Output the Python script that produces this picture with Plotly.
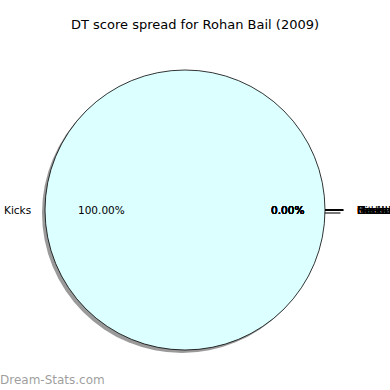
import numpy as np
import plotly.graph_objects as go

# ---- data ----
categories = ["Kicks", "Handballs", "Marks", "Tackles", "Hitouts",
              "Frees For", "Frees Against", "Goals", "Behinds"]
values = [100, 0, 0, 0, 0, 0, 0, 0, 0]
title_text = "DT score spread for Rohan Bail (2009)"
watermark = "Dream-Stats.com"

# ---- geometry (pixels) ----
W = H = 390
CX, CY, R = 185, 210, 140          # pie centre / radius in px (from top-left)
SH = 3                              # shadow offset px
PULL = 0.13                         # explode for zero slices (radius units)
FONT = "DejaVu Sans"

vals = np.array(values, dtype=float)
frac = vals / vals.sum()
ends = np.cumsum(frac) * 360.0
starts = ends - frac * 360.0
mids = np.deg2rad((starts + ends) / 2.0)
explode = np.where(vals == 0, PULL, 0.0)
edge_w = [0.8 if v > 0 else 0 for v in values]

fig = go.Figure()

# shadow pie
fig.add_trace(go.Pie(
    labels=categories, values=values, sort=False, direction="counterclockwise",
    rotation=90, textinfo="none", hoverinfo="skip", showlegend=False,
    marker=dict(colors=["rgba(120,120,120,0.75)"] * len(values), line=dict(width=0)),
    domain=dict(x=[(CX - R - SH) / W, (CX + R - SH) / W],
                y=[(H - CY - R - SH) / H, (H - CY + R - SH) / H]),
))

# main pie
fig.add_trace(go.Pie(
    labels=categories, values=values, sort=False, direction="counterclockwise",
    rotation=90, textinfo="none", showlegend=False,
    marker=dict(colors=["#DCFFFF"] * len(values), line=dict(color="black", width=edge_w)),
    domain=dict(x=[(CX - R) / W, (CX + R) / W],
                y=[(H - CY - R) / H, (H - CY + R) / H]),
))

# visible part (outside the main disc) of the exploded zero-width wedges
for i, v in enumerate(values):
    if v == 0:
        c, s = np.cos(mids[i]), np.sin(mids[i])
        t0, t1 = max(explode[i], 1.0), 1.0 + explode[i]
        xs, ys = [t0 * c, t1 * c], [t0 * s, t1 * s]
        fig.add_trace(go.Scatter(x=[x - SH / R for x in xs], y=[y - SH / R for y in ys],
                                 mode="lines", line=dict(color="rgba(120,120,120,0.8)", width=1),
                                 hoverinfo="skip", showlegend=False))
        fig.add_trace(go.Scatter(x=xs, y=ys, mode="lines",
                                 line=dict(color="black", width=1),
                                 hoverinfo="skip", showlegend=False))

# text labels (matplotlib-style: labels at 1.1 r, percentages at 0.6 r)
annotations = []
for i, (lab, f) in enumerate(zip(categories, frac)):
    ox, oy = explode[i] * np.cos(mids[i]), explode[i] * np.sin(mids[i])
    lx, ly = ox + 1.1 * np.cos(mids[i]), oy + 1.1 * np.sin(mids[i])
    px, py = ox + 0.6 * np.cos(mids[i]), oy + 0.6 * np.sin(mids[i])
    left = lx < 0
    annotations.append(dict(x=lx, y=ly, xref="x", yref="y", text=lab, showarrow=False,
                            xanchor="right" if left else "left", yanchor="middle",
                            xshift=2 if left else -2,
                            font=dict(family=FONT, size=10.5, color="black")))
    annotations.append(dict(x=px, y=py, xref="x", yref="y", text=f"{f*100:.2f}%",
                            showarrow=False, xanchor="center", yanchor="middle",
                            font=dict(family=FONT, size=10.5, color="black")))

annotations.append(dict(x=0.5, y=1 - 25 / H, xref="paper", yref="paper", text=title_text,
                        showarrow=False, xanchor="center", yanchor="middle",
                        font=dict(family=FONT, size=13, color="black")))
annotations.append(dict(x=0, y=1 - 380 / H, xref="paper", yref="paper", text=watermark,
                        showarrow=False, xanchor="left", yanchor="middle", xshift=-2,
                        font=dict(family=FONT, size=12, color="rgba(140,140,140,0.85)")))

fig.update_layout(
    width=W, height=H, margin=dict(l=0, r=0, t=0, b=0),
    paper_bgcolor="white", plot_bgcolor="rgba(0,0,0,0)",
    xaxis=dict(range=[-CX / R, (W - CX) / R], visible=False, fixedrange=True, domain=[0, 1]),
    yaxis=dict(range=[-(H - CY) / R, CY / R], visible=False, fixedrange=True, domain=[0, 1]),
    annotations=annotations,
)

fig.write_html("out.html")
